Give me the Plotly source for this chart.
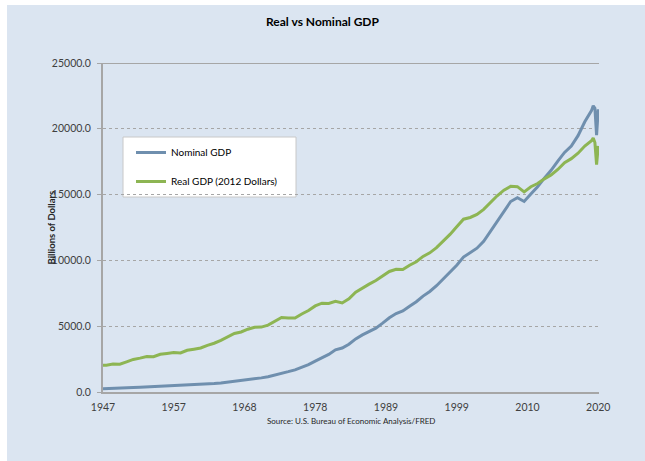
import plotly.graph_objects as go

# Observation dates: 1947Q1 start, annual averages, then the 2019Q4-2020Q3 quarters
dates = ["1947-01-01"] + [f"{y}-07-01" for y in range(1947, 2020)] + [
    "2019-10-01", "2020-01-01", "2020-04-01", "2020-07-01"]

# Nominal GDP, billions of dollars (SAAR)
nominal_gdp = [
    243.2,
    249.6, 274.5, 272.5, 299.8, 346.9, 367.3, 389.2, 390.5, 425.5, 449.4,
    474.0, 481.2, 521.7, 542.4, 562.2, 603.9, 637.5, 684.5, 742.3, 813.4,
    860.0, 940.7, 1017.6, 1073.3, 1164.9, 1279.1, 1425.4, 1545.2, 1684.9, 1873.4,
    2081.8, 2351.6, 2627.3, 2857.3, 3207.0, 3343.8, 3634.0, 4037.6, 4339.0, 4579.6,
    4855.2, 5236.4, 5641.6, 5963.1, 6158.1, 6520.3, 6858.6, 7287.2, 7639.7, 8073.1,
    8577.6, 9062.8, 9631.2, 10251.0, 10581.9, 10929.1, 11456.4, 12217.2, 13039.2, 13815.6,
    14474.2, 14769.9, 14478.1, 15049.0, 15599.7, 16254.0, 16843.2, 17550.7, 18206.0, 18695.1,
    19477.3, 20533.1, 21381.0,
    21750.0, 21561.0, 19520.0, 21480.0,
]

# Real GDP, billions of chained 2012 dollars (SAAR)
real_gdp = [
    2033.1,
    2034.5, 2118.5, 2106.6, 2289.5, 2473.8, 2574.9, 2695.6, 2680.0, 2871.0, 2932.1,
    2994.7, 2965.0, 3173.2, 3255.6, 3343.0, 3548.2, 3704.7, 3921.6, 4172.9, 4445.5,
    4559.0, 4771.4, 4918.5, 4930.4, 5085.2, 5351.5, 5659.6, 5629.8, 5618.2, 5924.4,
    6194.7, 6541.0, 6748.5, 6730.3, 6894.1, 6769.0, 7080.2, 7590.4, 7915.1, 8194.4,
    8477.4, 8830.9, 9159.6, 9329.5, 9304.1, 9636.5, 9900.5, 10301.1, 10576.3, 10970.4,
    11463.2, 11978.1, 12561.8, 13131.0, 13262.3, 13493.1, 13879.1, 14406.4, 14912.5, 15338.3,
    15626.0, 15604.7, 15208.8, 15598.8, 15840.7, 16197.0, 16495.4, 16912.0, 17432.2, 17730.5,
    18144.1, 18687.8, 19091.7,
    19300.0, 18951.0, 17282.0, 18700.0,
]

tick_dates = ["1947-01-01", "1957-07-01", "1968-01-01", "1978-07-01",
              "1989-01-01", "1999-07-01", "2010-01-01", "2020-07-01"]
tick_labels = ["1947", "1957", "1968", "1978", "1989", "1999", "2010", "2020"]
y_ticks = [0, 5000, 10000, 15000, 20000, 25000]

W, H = 645, 461
ML, MR, MT, MB = 103, 46, 63, 69
PW, PH = W - ML - MR, H - MT - MB


def px_x(p):
    return (p - ML) / PW


def px_y(p):
    return (H - MB - p) / PH


FONT = "Lato"
BG = "#dbe5f1"
AXIS = "#a6a6a6"

fig = go.Figure()
fig.add_trace(go.Scatter(x=dates, y=nominal_gdp, mode="lines", name="Nominal GDP",
                         legendgroup="a", line=dict(color="#6f8fae", width=3)))
fig.add_trace(go.Scatter(x=dates, y=real_gdp, mode="lines", name="Real GDP (2012 Dollars)",
                         legendgroup="b", line=dict(color="#8db553", width=3)))

fig.update_layout(
    width=W, height=H,
    margin=dict(l=ML, r=MR, t=MT, b=MB, pad=0),
    paper_bgcolor="white",
    plot_bgcolor="rgba(0,0,0,0)",
    font=dict(family=FONT, size=10.5, color="#404040"),
    title=dict(text="<b>Real vs Nominal GDP</b>", x=0.5, xanchor="center",
               xref="container", y=1 - 22 / H, yanchor="middle",
               font=dict(family=FONT, size=12, color="#000000")),
    showlegend=True,
    legend=dict(x=px_x(131), y=px_y(138), xanchor="left", yanchor="top",
                bgcolor="rgba(0,0,0,0)", borderwidth=0, tracegroupgap=10,
                font=dict(family=FONT, size=10, color="#000000")),
    xaxis=dict(type="date", range=["1947-01-01", "2020-08-10"],
               tickmode="array", tickvals=tick_dates, ticktext=tick_labels,
               showgrid=False, zeroline=False, showline=True,
               linecolor=AXIS, linewidth=2, ticks="", ticklabelstandoff=4,
               tickfont=dict(size=10.5, color="#404040")),
    yaxis=dict(range=[0, 25000], tickmode="array", tickvals=y_ticks,
               tickformat=".1f", showgrid=True, gridcolor=AXIS, griddash="dot",
               gridwidth=1, zeroline=False, showline=True, linecolor=AXIS,
               linewidth=2, ticks="outside", ticklen=4, tickcolor=AXIS,
               ticklabelstandoff=4, tickfont=dict(size=10.5, color="#404040")),
    shapes=[
        # chart area fill
        dict(type="rect", xref="paper", yref="paper", layer="below",
             x0=px_x(7), x1=px_x(W + 10), y0=px_y(H + 10), y1=px_y(5),
             fillcolor=BG, line=dict(width=0)),
        # legend box
        dict(type="rect", xref="paper", yref="paper", layer="below",
             x0=px_x(123), x1=px_x(296), y0=px_y(197), y1=px_y(137),
             fillcolor="white", line=dict(color="#c8c8c8", width=1)),
        # solid top border of the plot area
        dict(type="line", xref="paper", yref="y", x0=0, x1=1, y0=25000, y1=25000,
             line=dict(color=AXIS, width=2)),
    ],
    annotations=[
        dict(text="<b>Billions of Dollars</b>", textangle=-90, xref="paper", yref="paper",
             x=px_x(51), y=0.5, xanchor="center", yanchor="middle", showarrow=False,
             font=dict(family=FONT, size=9.5, color="#262626")),
        dict(text="Source: U.S. Bureau of Economic Analysis/FRED", xref="paper", yref="paper",
             x=px_x(351), y=px_y(421), xanchor="center", yanchor="middle", showarrow=False,
             font=dict(family=FONT, size=8, color="#262626")),
    ],
)

fig.write_html("out.html")
